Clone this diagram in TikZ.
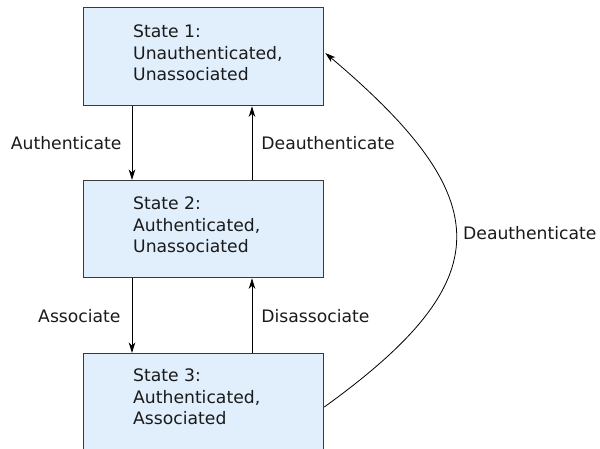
\documentclass[tikz,border=0pt]{standalone}
\usepackage{fontspec}
\setmainfont{DejaVu Sans}
\usetikzlibrary{arrows.meta,calc}
\definecolor{statefill}{HTML}{E1EEFC}
\definecolor{stateline}{HTML}{3A3A3A}
\definecolor{inktext}{HTML}{1A1A1A}
\begin{document}
\begin{tikzpicture}[x=1pt,y=-1pt,
  font=\fontsize{17.2}{21.5}\selectfont,
  statebox/.style={draw=stateline,line width=1.3pt,fill=statefill,
    rectangle,anchor=north west,minimum width=240pt,inner sep=0pt},
  statetext/.style={anchor=north west,align=left,inner sep=0pt,text=inktext},
  trans/.style={draw=black,line width=0.9pt,
    -{Stealth[length=10.5pt,width=6.5pt,inset=3pt]}},
  translabel/.style={inner sep=0pt,text=inktext}]
\useasboundingbox (0,0) rectangle (600,449);

% the three states
\node[statebox,minimum height=98pt] (s1) at (83,7) {};
\node[statebox,minimum height=97pt] (s2) at (83,180) {};
\node[statebox,minimum height=120pt] (s3) at (83,353) {};

\node[statetext] (t1) at ($(s1.north west)+(50,18)$) {State 1:\\Unauthenticated,\\Unassociated};
\node[statetext] (t2) at ($(s2.north west)+(50,17)$) {State 2:\\Authenticated,\\Unassociated};
\node[statetext] (t3) at ($(s3.north west)+(50,16)$) {State 3:\\Authenticated,\\Associated};

% downward transitions (left) and upward transitions (right)
\draw[trans] ($(s1.south west)+(49,0)$) -- ($(s2.north west)+(49,0)$)
  node[midway,translabel,anchor=east,xshift=-10pt] (la) {Authenticate};
\draw[trans] ($(s2.north west)+(169,0)$) -- ($(s1.south west)+(169,0)$)
  node[midway,translabel,anchor=west,xshift=9pt] (ld) {Deauthenticate};
\draw[trans] ($(s2.south west)+(49,0)$) -- ($(s3.north west)+(49,0)$)
  node[midway,translabel,anchor=east,xshift=-11pt] (las) {Associate};
\draw[trans] ($(s3.north west)+(169,0)$) -- ($(s2.south west)+(169,0)$)
  node[midway,translabel,anchor=west,xshift=9pt] (ldis) {Disassociate};

% direct transition from state 3 back to state 1
\coordinate (c3) at ($(s3.north east)+(0,54)$);
\coordinate (c1) at ($(s1.north east)+(1,46)$);
\draw[trans,line width=0.8pt] (c3) .. controls ($(c3)+(176,-127)$) and ($(c1)+(174,147)$) .. (c1);
\node[translabel,anchor=west] (lback) at (463,233) {Deauthenticate};
\end{tikzpicture}
\end{document}
